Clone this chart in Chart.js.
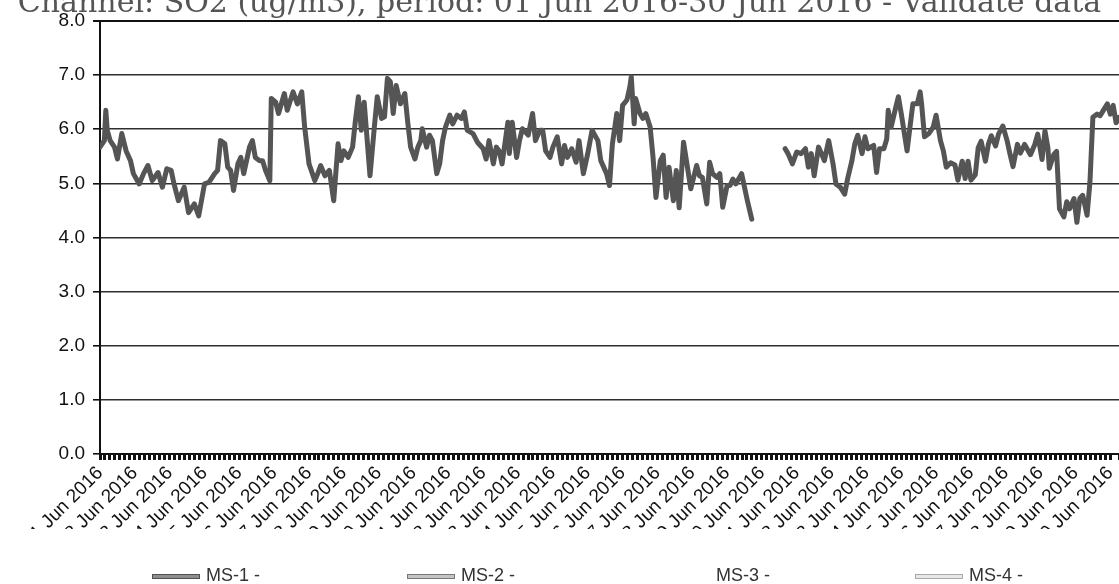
<!DOCTYPE html>
<html>
<head>
<meta charset="utf-8">
<script src="https://cdn.jsdelivr.net/npm/chart.js@4.4.0/dist/chart.umd.min.js"></script>
<style>
  html, body { margin: 0; padding: 0; background: #fff; }
  #wrap { position: relative; width: 1119px; height: 584px; overflow: hidden; }
  #wrap canvas { position: absolute; left: 0; top: -12px; }
  #cut { position: absolute; left: 0; top: 529px; width: 1119px; height: 30px; background: #fff; }
  #legend { position: absolute; left: 0; top: 565px; width: 1119px; height: 20px;
            font: 18px 'Liberation Sans', Arial, sans-serif; color: #333; }
  .item { position: absolute; top: 0; white-space: nowrap; line-height: 20px; }
  .swatch { display: inline-block; width: 46px; height: 3px; vertical-align: middle;
            margin-right: 6px; box-sizing: content-box; }
</style>
</head>
<body>
<div id="wrap">
  <canvas id="so2Chart" width="1119" height="596"></canvas>
  <div id="cut"></div>
  <div id="legend"></div>
</div>
<script>
const titleText = 'Channel: SO2 (ug/m3), period: 01 Jun 2016-30 Jun 2016 - Validate data';

const seriesNames = ['MS-1 -', 'MS-2 -', 'MS-3 -', 'MS-4 -'];

const dayLabels = [
  '01 Jun 2016', '02 Jun 2016', '03 Jun 2016', '04 Jun 2016', '05 Jun 2016',
  '06 Jun 2016', '07 Jun 2016', '08 Jun 2016', '09 Jun 2016', '10 Jun 2016',
  '11 Jun 2016', '12 Jun 2016', '13 Jun 2016', '14 Jun 2016', '15 Jun 2016',
  '16 Jun 2016', '17 Jun 2016', '18 Jun 2016', '19 Jun 2016', '20 Jun 2016',
  '21 Jun 2016', '22 Jun 2016', '23 Jun 2016', '24 Jun 2016', '25 Jun 2016',
  '26 Jun 2016', '27 Jun 2016', '28 Jun 2016', '29 Jun 2016', '30 Jun 2016'
];

const yTicks = [0, 1, 2, 3, 4, 5, 6, 7, 8];

// hours since 01 Jun 00:00 (null value = no valid data)
const sampleHours = [
  0, 3, 4, 5, 7, 10, 12, 15, 18, 21, 23, 27, 30, 33, 36, 40, 43, 46, 49, 51,
  54, 58, 61, 65, 68, 72, 75, 79, 81, 83, 86, 88, 90, 92, 95, 97, 99, 103, 105, 107,
  110, 112, 114, 117, 118, 121, 123, 127, 129, 133, 136, 139, 141, 144, 148, 150, 152, 155, 158, 161,
  164, 166, 168, 171, 174, 176, 178, 180, 182, 186, 189, 191, 194, 196, 198, 200, 202, 204, 207, 210,
  212, 214, 217, 219, 221, 222, 225, 227, 229, 232, 234, 236, 238, 241, 243, 246, 249, 251, 253, 257,
  260, 264, 266, 268, 271, 273, 275, 277, 281, 282, 284, 287, 289, 291, 295, 298, 300, 303, 305, 307,
  310, 312, 315, 318, 320, 322, 325, 328, 330, 333, 336, 339, 343, 345, 349, 351, 353, 356, 358, 360,
  363, 365, 366, 368, 369, 372, 374, 376, 379, 381, 383, 386, 388, 390, 392, 395, 397, 399, 402, 404,
  407, 411, 413, 415, 418, 420, 422, 425, 427, 429, 432, 434, 436, 438, 442, 444, 446, 449, 450, 472,
  474, 477, 480, 483, 486, 488, 490, 492, 495, 497, 499, 502, 505, 507, 510, 513, 515, 518, 520, 522,
  525, 527, 529, 533, 535, 537, 540, 542, 543, 545, 548, 550, 552, 556, 558, 560, 563, 565, 566, 568,
  571, 574, 576, 579, 581, 583, 586, 589, 591, 594, 596, 598, 600, 603, 605, 607, 610, 612, 614, 617,
  619, 622, 625, 627, 629, 632, 634, 637, 641, 644, 646, 649, 651, 653, 654, 657, 659, 661, 664, 666,
  668, 671, 673, 675, 677, 680, 682, 684, 687, 689, 691, 694, 696, 698, 700, 702
];

const ms1Values = [
  5.67, 5.79, 6.35, 5.98, 5.79, 5.67, 5.45, 5.92, 5.60, 5.42, 5.18, 4.99, 5.18, 5.33, 5.05, 5.20, 4.93, 5.27, 5.24, 4.99,
  4.68, 4.93, 4.46, 4.62, 4.40, 4.99, 5.02, 5.18, 5.24, 5.79, 5.73, 5.30, 5.24, 4.87, 5.36, 5.48, 5.18, 5.67, 5.79, 5.48,
  5.42, 5.42, 5.24, 5.05, 6.57, 6.50, 6.29, 6.66, 6.35, 6.69, 6.47, 6.69, 6.04, 5.36, 5.05, 5.18, 5.33, 5.14, 5.24, 4.68,
  5.73, 5.42, 5.60, 5.48, 5.67, 6.17, 6.60, 5.98, 6.50, 5.14, 6.04, 6.60, 6.20, 6.23, 6.94, 6.88, 6.29, 6.81, 6.47, 6.66,
  6.13, 5.67, 5.45, 5.67, 5.79, 6.01, 5.67, 5.89, 5.79, 5.18, 5.36, 5.79, 6.04, 6.26, 6.10, 6.26, 6.20, 6.32, 5.98, 5.92,
  5.76, 5.64, 5.45, 5.79, 5.36, 5.67, 5.60, 5.36, 6.13, 5.55, 6.13, 5.48, 5.79, 6.01, 5.89, 6.29, 5.79, 5.98, 5.98, 5.60,
  5.48, 5.67, 5.86, 5.36, 5.70, 5.48, 5.64, 5.39, 5.79, 5.18, 5.55, 5.98, 5.79, 5.42, 5.18, 4.96, 5.73, 6.29, 5.79, 6.44,
  6.54, 6.78, 6.97, 6.10, 6.57, 6.29, 6.20, 6.29, 6.04, 5.48, 4.74, 5.42, 5.52, 4.74, 5.30, 4.68, 5.24, 4.55, 5.76, 5.42,
  4.90, 5.33, 5.14, 5.11, 4.62, 5.39, 5.18, 5.11, 5.18, 4.56, 4.96, 4.96, 5.08, 4.99, 5.18, 4.93, 4.68, 4.34, null, 5.64,
  5.55, 5.36, 5.58, 5.55, 5.64, 5.30, 5.55, 5.14, 5.67, 5.55, 5.42, 5.79, 5.36, 4.99, 4.93, 4.80, 5.08, 5.42, 5.73, 5.89,
  5.55, 5.86, 5.64, 5.70, 5.20, 5.64, 5.64, 5.82, 6.35, 6.04, 6.38, 6.60, 6.29, 5.60, 6.04, 6.47, 6.47, 6.69, 6.47, 5.86,
  5.92, 6.04, 6.26, 5.79, 5.60, 5.30, 5.38, 5.34, 5.06, 5.41, 5.09, 5.41, 5.06, 5.16, 5.66, 5.78, 5.41, 5.72, 5.88, 5.69,
  5.91, 6.06, 5.78, 5.53, 5.31, 5.72, 5.56, 5.72, 5.53, 5.72, 5.91, 5.44, 5.97, 5.66, 5.28, 5.53, 5.59, 4.53, 4.38, 4.66,
  4.53, 4.72, 4.28, 4.72, 4.78, 4.41, 5.03, 6.22, 6.28, 6.25, 6.34, 6.47, 6.28, 6.44, 6.12, 6.22
];

// MS-2 lies on top of MS-1 in the print
const ms2Values = ms1Values;
const ms3Values = [];
const ms4Values = [];

const lineColors = ['#555555', '#a8a8a8', '#ffffff', '#d9d9d9'];
const swatchStyles = [
  'background:#8e8e8e;border:1px solid #505050;',
  'background:#c4c4c4;border:1px solid #777;',
  'background:transparent;border:1px solid transparent;',
  'background:#e8e8e8;border:1px solid #aaa;'
];
const legendLeft = [152, 407, 662, 915];

const axisFont = { family: "'Liberation Sans', Arial, sans-serif", size: 19 };

function toPoints(values) {
  return values.map((v, i) => ({ x: sampleHours[i], y: v }));
}

document.addEventListener('DOMContentLoaded', () => {
  const ctx = document.getElementById('so2Chart');

  const chart = new Chart(ctx, {
    type: 'line',
    data: {
      datasets: [
        { label: seriesNames[0], data: toPoints(ms1Values), borderColor: lineColors[0], borderWidth: 5 },
        { label: seriesNames[1], data: toPoints(ms2Values), borderColor: lineColors[1], borderWidth: 2.8 },
        { label: seriesNames[2], data: ms3Values, borderColor: lineColors[2], borderWidth: 2 },
        { label: seriesNames[3], data: ms4Values, borderColor: lineColors[3], borderWidth: 2 }
      ]
    },
    options: {
      responsive: false,
      animation: false,
      devicePixelRatio: 1,
      spanGaps: false,
      elements: {
        point: { radius: 0 },
        line: { tension: 0, borderJoinStyle: 'round', borderCapStyle: 'round' }
      },
      layout: { padding: 0 },
      plugins: {
        legend: { display: false },
        tooltip: { enabled: false },
        title: {
          display: true,
          text: titleText,
          color: '#555',
          font: { family: "'DejaVu Serif', serif", size: 30, weight: 'normal', lineHeight: 1.1 },
          padding: { top: 0, bottom: 0 }
        }
      },
      scales: {
        x: {
          type: 'linear',
          min: 0,
          max: 702,
          border: { color: '#111', width: 2 },
          grid: {
            drawOnChartArea: false,
            drawTicks: true,
            tickLength: 6,
            tickWidth: 3,
            tickColor: '#111'
          },
          ticks: {
            stepSize: 24 / 7,
            autoSkip: false,
            minRotation: 45,
            maxRotation: 45,
            padding: 2,
            color: '#111',
            font: axisFont,
            callback: (value) => {
              const d = value / 24;
              const r = Math.round(d);
              return Math.abs(d - r) < 1e-6 && r < dayLabels.length ? dayLabels[r] : '';
            }
          },
          afterFit: (scale) => {
            scale.height = 130;
            scale.paddingRight = 0;
            scale.paddingLeft = 0;
          }
        },
        y: {
          min: yTicks[0],
          max: yTicks[yTicks.length - 1],
          border: { color: '#111', width: 2 },
          grid: {
            color: (c) => (c.tick && c.tick.value === 8 ? '#111' : '#2e2e2e'),
            lineWidth: (c) => (c.tick && c.tick.value === 8 ? 2 : 1.6),
            tickColor: '#111',
            tickLength: 7
          },
          ticks: {
            stepSize: 1,
            padding: 8,
            color: '#111',
            font: axisFont,
            callback: (v) => v.toFixed(1)
          },
          afterFit: (scale) => { scale.width = 100; }
        }
      }
    }
  });

  // legend row laid out like the printed report
  const legend = document.getElementById('legend');
  chart.data.datasets.forEach((ds, i) => {
    const item = document.createElement('div');
    item.className = 'item';
    item.style.left = legendLeft[i] + 'px';
    const sw = document.createElement('span');
    sw.className = 'swatch';
    sw.setAttribute('style', swatchStyles[i]);
    item.appendChild(sw);
    item.appendChild(document.createTextNode(ds.label));
    legend.appendChild(item);
  });
});
</script>
</body>
</html>
